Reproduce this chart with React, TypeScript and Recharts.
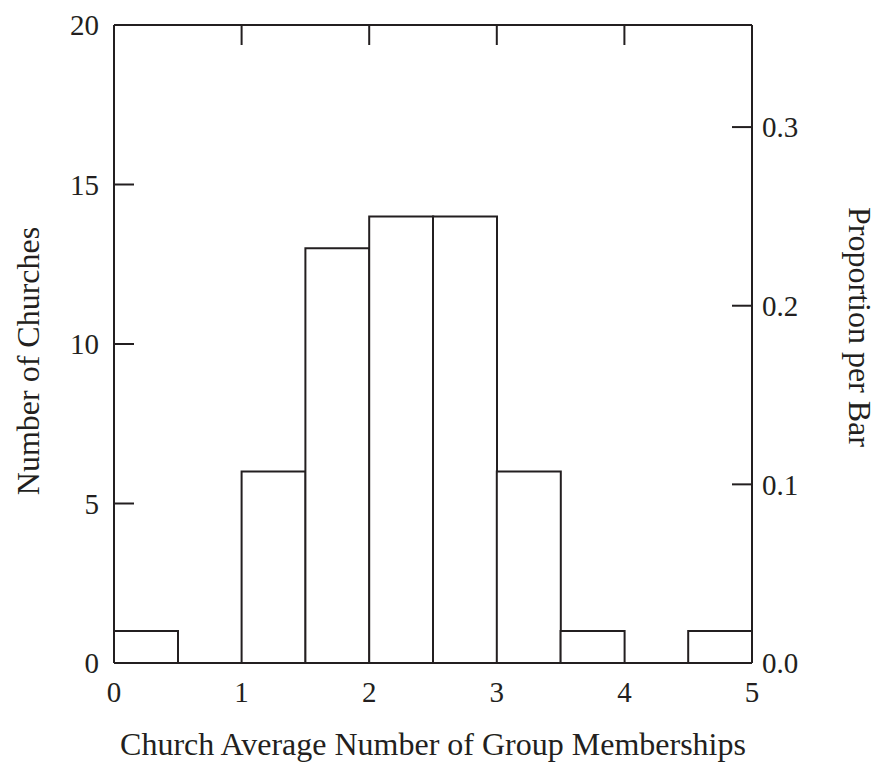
import React from 'react';
import {
  ComposedChart,
  Bar,
  XAxis,
  YAxis,
  Label
} from 'recharts';

// histogram bins of width 0.5, located by their midpoints
const binMids = [0.25, 0.75, 1.25, 1.75, 2.25, 2.75, 3.25, 3.75, 4.25, 4.75];
const churchCounts = [1, 0, 6, 13, 14, 14, 6, 1, 0, 1];
const xTicks = [0, 1, 2, 3, 4, 5];
const topTicks = [1, 2, 3, 4];
const countTicks = [0, 5, 10, 15, 20];
const proportionTicks = [0, 0.1, 0.2, 0.3];
const totalChurches = 56;
const maxCount = 20;

const data = binMids.map((mid, i) => ({ mid, count: churchCounts[i] }));

const INK = '#231f20';
const FONT = '"Liberation Serif", "DejaVu Serif", serif';
const tickStyle = { fontSize: 29, fill: INK, fontFamily: FONT };
const titleStyle = { fontSize: 32, fill: INK, fontFamily: FONT, textAnchor: 'middle' as const };

// top axis keeps its tick marks but shows no labels
const NoLabel = () => <g />;

const App = () => {
  return (
    <div style={{ width: 872, height: 755, fontFamily: FONT }}>
      <ComposedChart
        width={872}
        height={755}
        data={data}
        margin={{ top: 15, right: 0, bottom: 0, left: 0 }}
        barCategoryGap={0}
        barGap={0}
      >
        <XAxis
          xAxisId="num"
          dataKey="mid"
          type="number"
          domain={[0, 5]}
          allowDataOverflow
          ticks={xTicks}
          orientation="bottom"
          height={100}
          axisLine={{ stroke: INK, strokeWidth: 2 }}
          tickLine={false}
          tickSize={-20}
          tickMargin={38}
          tick={tickStyle}
        >
          <Label
            value="Church Average Number of Group Memberships"
            position="insideBottom"
            offset={8}
            style={titleStyle}
          />
        </XAxis>
        <XAxis
          xAxisId="top"
          dataKey="mid"
          type="number"
          domain={[0, 5]}
          allowDataOverflow
          ticks={topTicks}
          orientation="top"
          height={2}
          axisLine={{ stroke: INK, strokeWidth: 2 }}
          tickLine={{ stroke: INK, strokeWidth: 2 }}
          tickSize={-20}
          tick={NoLabel}
        />
        <YAxis
          yAxisId="count"
          orientation="left"
          type="number"
          domain={[0, maxCount]}
          allowDataOverflow
          ticks={countTicks}
          width={106}
          axisLine={{ stroke: INK, strokeWidth: 2 }}
          tickLine={{ stroke: INK, strokeWidth: 2 }}
          tickSize={-20}
          tickMargin={35}
          tick={tickStyle}
        >
          <Label
            value="Number of Churches"
            angle={-90}
            position="insideLeft"
            offset={20}
            dy={17}
            style={titleStyle}
          />
        </YAxis>
        <YAxis
          yAxisId="prop"
          orientation="right"
          type="number"
          domain={[0, maxCount / totalChurches]}
          allowDataOverflow
          ticks={proportionTicks}
          width={128}
          axisLine={{ stroke: INK, strokeWidth: 2 }}
          tickLine={{ stroke: INK, strokeWidth: 2 }}
          tickSize={-20}
          tickMargin={30}
          tick={tickStyle}
          tickFormatter={(v: number) => v.toFixed(1)}
        >
          <Label
            value="Proportion per Bar"
            angle={90}
            position="insideRight"
            offset={20}
            dy={-17}
            style={titleStyle}
          />
        </YAxis>
        <Bar
          xAxisId="num"
          yAxisId="count"
          dataKey="count"
          fill="#ffffff"
          stroke={INK}
          strokeWidth={2}
          isAnimationActive={false}
        />
      </ComposedChart>
    </div>
  );
};

export default App;
